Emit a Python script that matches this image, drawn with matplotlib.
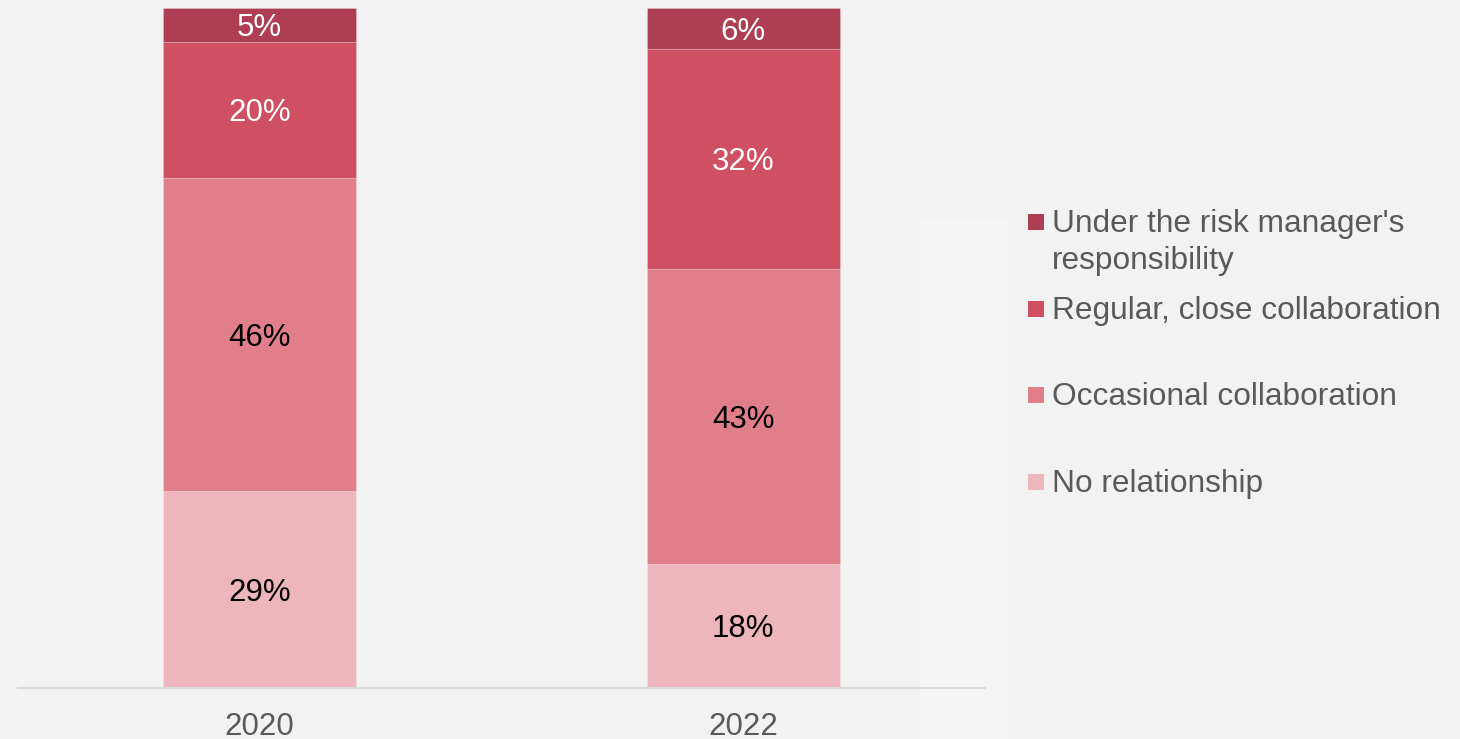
import matplotlib
matplotlib.use("Agg")
import matplotlib.pyplot as plt
from matplotlib.patches import Rectangle

plt.rcParams['font.family'] = ['Liberation Sans', 'DejaVu Sans']

years = ["2020", "2022"]
series_names = ["No relationship", "Occasional collaboration",
                "Regular, close collaboration", "Under the risk manager's\nresponsibility"]
no_relationship = [29.0, 18.2]
occasional = [46.0, 43.4]
regular = [20.0, 32.4]
under_rm = [5.0, 6.0]
labels_text = [["29%", "18%"], ["46%", "43%"], ["20%", "32%"], ["5%", "6%"]]

colors = ["#ecb6bc", "#e07f8a", "#cf4f63", "#ae3e51"]
label_colors = ["black", "black", "white", "white"]
series = [no_relationship, occasional, regular, under_rm]

W, H = 1460, 739
fig = plt.figure(figsize=(W / 100, H / 100), dpi=100)
fig.patch.set_facecolor("#f2f2f2")

# lighter panel behind legend
fig.patches.append(Rectangle((919 / W, 0), (1008 - 919) / W, (739 - 218) / H,
                             transform=fig.transFigure, facecolor="#f5f5f5",
                             edgecolor="none", zorder=-5))

ax = fig.add_axes([18 / W, (H - 688) / H, 967 / W, 680 / H])
ax.set_zorder(2)
ax.set_facecolor("none")
x = list(range(len(years)))
bottom = [0.0] * len(years)
for vals, col, lc, txts in zip(series, colors, label_colors, labels_text):
    bars = ax.bar(x, vals, width=0.4, bottom=bottom, color=col,
                  edgecolor=(1, 1, 1, 0.25), linewidth=0.6, zorder=2)
    for i, b in enumerate(bars):
        ax.annotate(txts[i], (b.get_x() + b.get_width() / 2, bottom[i] + vals[i] / 2),
                    xytext=(0, -8), textcoords="offset points",
                    ha="center", va="baseline", fontsize=22.5, color=lc, zorder=3)
    bottom = [bt + v for bt, v in zip(bottom, vals)]

ax.set_xlim(-0.5, 1.5)
ax.set_ylim(0, 100)
ax.set_xticks(x)
ax.set_xticklabels(years, fontsize=22.5, color="#595959")
ax.tick_params(axis="x", length=0, pad=17)
ax.set_yticks([])
for s in ["left", "right", "top"]:
    ax.spines[s].set_visible(False)
ax.spines["bottom"].set_color("#d9d9d9")
ax.spines["bottom"].set_linewidth(1.5)

# legend (manual)
leg_items = [
    ("Under the risk manager's", colors[3], 232),
    ("Regular, close collaboration", colors[2], 319),
    ("Occasional collaboration", colors[1], 405),
    ("No relationship", colors[0], 492),
]
for name, col, base in leg_items:
    fig.patches.append(Rectangle((1028 / W, (H - (base - 2)) / H), 16 / W, 16 / H,
                                 transform=fig.transFigure, facecolor=col,
                                 edgecolor="none"))
    fig.text(1052 / W, (H - base) / H, name, fontsize=22.8, color="#595959",
             ha="left", va="baseline")
fig.text(1052 / W, (H - 269) / H, "responsibility", fontsize=22.8, color="#595959",
         ha="left", va="baseline")

fig.savefig("out.png", dpi=100, facecolor=fig.get_facecolor())
